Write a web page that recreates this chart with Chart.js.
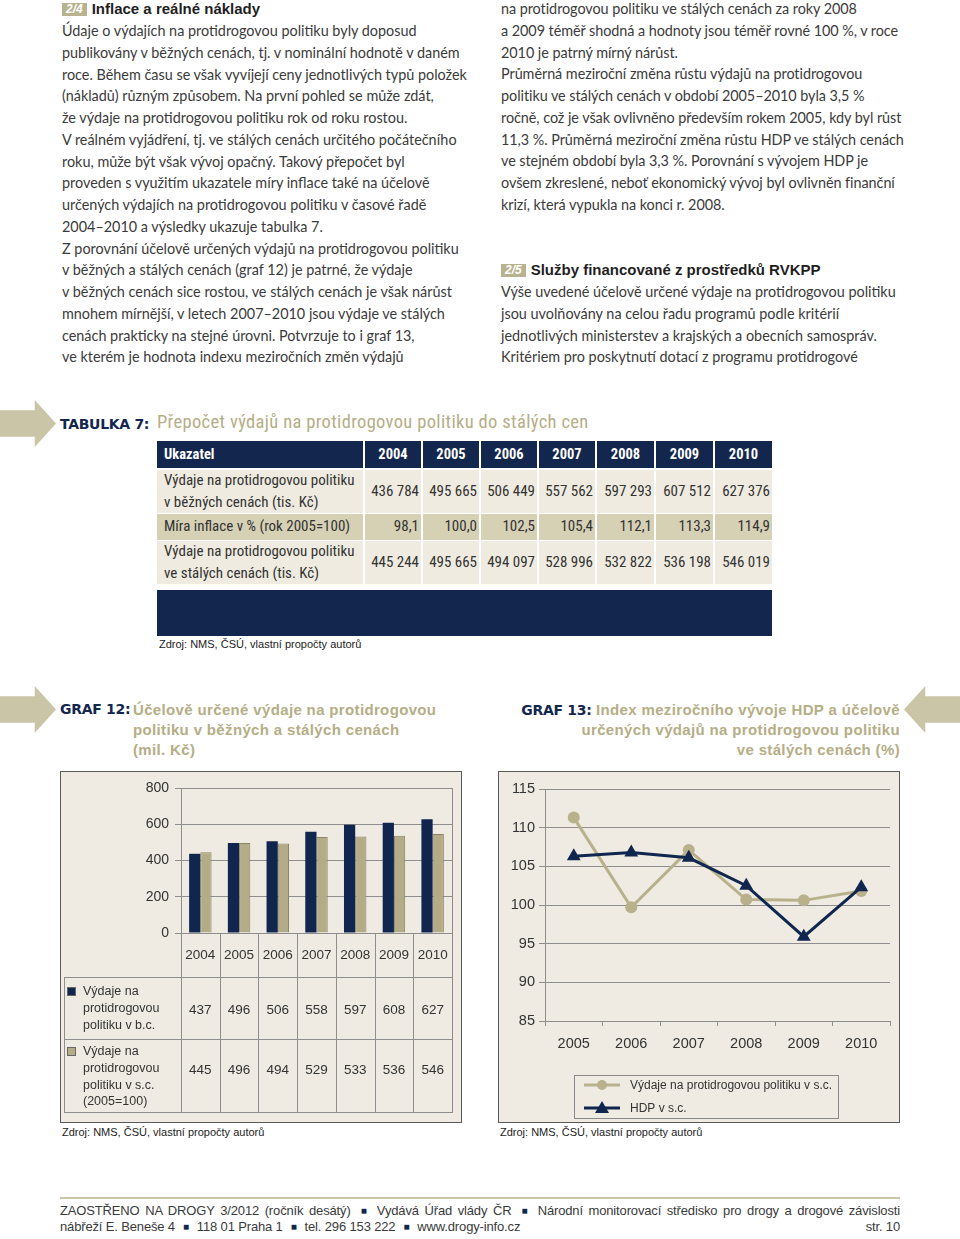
<!DOCTYPE html>
<html><head><meta charset="utf-8">
<script src="https://cdn.jsdelivr.net/npm/chart.js@4.4.1/dist/chart.umd.min.js"></script>
<style>
html,body{margin:0;padding:0;background:#fff}
body{width:960px;height:1239px;position:relative;overflow:hidden;font-family:Lato,"Open Sans",sans-serif;color:#3a3a3a}
.abs{position:absolute}
.txt{font-size:14.4px;line-height:21.75px;white-space:nowrap;color:#3b3b3b}
.hd{font-family:"Liberation Sans",Arial,sans-serif;font-weight:bold;font-size:15px;color:#1f1f1f;white-space:nowrap}
.badge{display:inline-block;background:#b8b28e;color:#fff;font-family:"Liberation Sans",Arial,sans-serif;font-style:italic;font-weight:bold;font-size:12px;line-height:13px;padding:0 4px;margin-right:5px;vertical-align:1px}
.lbl{font-family:"DejaVu Sans",sans-serif;font-weight:bold;font-size:14px;color:#13264d;white-space:nowrap;letter-spacing:-0.3px}
.ttl{font-family:"Liberation Sans",Arial,sans-serif;font-weight:bold;font-size:15px;color:#b5ae86;letter-spacing:0.35px;white-space:nowrap;line-height:20px}
.narrow{font-family:"Liberation Sans Narrow","Roboto Condensed","Liberation Sans",sans-serif}
.box{position:absolute;background:#efebe2;border:1px solid #5a5a5a;width:400px;height:350px}
.src{font-family:"Liberation Sans",Arial,sans-serif;font-size:11px;color:#222;white-space:nowrap}
table.t7{position:absolute;left:157px;top:441px;border-collapse:collapse;table-layout:fixed;width:615px}
table.t7 td{padding:0 3px 0 7px;font-size:15px;color:#333;border-left:2px solid #fff;white-space:nowrap;line-height:21.5px}
table.t7 td.n{text-align:right;padding:0 2px 0 0}
table.t7 tr.h td{background:#13264d;color:#fff;font-weight:bold;height:27px;font-size:14.5px;text-align:center;padding:0}
table.t7 tr.h td:first-child{text-align:left;padding-left:7px}
table.t7 tr.r td{background:#efebe0;border-top:2px solid #fff}
table.t7 tr.m td{background:#d6d0b5;border-top:1px solid #fff;height:26px}
table.t7 td:first-child{border-left:none}
.foot{font-family:"Liberation Sans",Arial,sans-serif;font-size:13px;color:#3a3a3a;white-space:nowrap;letter-spacing:-0.15px}
.sq{color:#13264d;font-size:10px;margin:0 8px;vertical-align:1px}
</style>
</head><body>

<!-- top text columns -->
<div class="abs hd" style="left:62px;top:0px;line-height:18px"><span class="badge">2/4</span>Inflace a reálné náklady</div>
<div class="abs txt" style="left:62px;top:20px">Údaje o výdajích na protidrogovou politiku byly doposud<br>publikovány v běžných cenách, tj. v nominální hodnotě v daném<br>roce. Během času se však vyvíjejí ceny jednotlivých typů položek<br>(nákladů) různým způsobem. Na první pohled se může zdát,<br>že výdaje na protidrogovou politiku rok od roku rostou.<br>V reálném vyjádření, tj. ve stálých cenách určitého počátečního<br>roku, může být však vývoj opačný. Takový přepočet byl<br>proveden s využitím ukazatele míry inflace také na účelově<br>určených výdajích na protidrogovou politiku v časové řadě<br>2004–2010 a výsledky ukazuje tabulka 7.<br>Z porovnání účelově určených výdajů na protidrogovou politiku<br>v běžných a stálých cenách (graf 12) je patrné, že výdaje<br>v běžných cenách sice rostou, ve stálých cenách je však nárůst<br>mnohem mírnější, v letech 2007–2010 jsou výdaje ve stálých<br>cenách prakticky na stejné úrovni. Potvrzuje to i graf 13,<br>ve kterém je hodnota indexu meziročních změn výdajů</div>

<div class="abs txt" style="left:501px;top:-2px;letter-spacing:-0.05px">na protidrogovou politiku ve stálých cenách za roky 2008<br>a 2009 téměř shodná a hodnoty jsou téměř rovné 100 %, v roce<br>2010 je patrný mírný nárůst.<br>Průměrná meziroční změna růstu výdajů na protidrogovou<br>politiku ve stálých cenách v období 2005–2010 byla 3,5 %<br>ročně, což je však ovlivněno především rokem 2005, kdy byl růst<br>11,3 %. Průměrná meziroční změna růstu HDP ve stálých cenách<br>ve stejném období byla 3,3 %. Porovnání s vývojem HDP je<br>ovšem zkreslené, neboť ekonomický vývoj byl ovlivněn finanční<br>krizí, která vypukla na konci r. 2008.</div>
<div class="abs hd" style="left:501px;top:261px;line-height:18px"><span class="badge">2/5</span>Služby financované z prostředků RVKPP</div>
<div class="abs txt" style="left:501px;top:281px">Výše uvedené účelově určené výdaje na protidrogovou politiku<br>jsou uvolňovány na celou řadu programů podle kritérií<br>jednotlivých ministerstev a krajských a obecních samospráv.<br>Kritériem pro poskytnutí dotací z programu protidrogové</div>

<!-- arrows -->
<div class="abs" style="left:0;top:400px;width:56px;height:47px;background:#cbc5a8;clip-path:polygon(0 22%,62% 22%,62% 0,100% 50%,62% 100%,62% 78%,0 78%)"></div>
<div class="abs" style="left:0;top:686px;width:56px;height:47px;background:#cbc5a8;clip-path:polygon(0 22%,62% 22%,62% 0,100% 50%,62% 100%,62% 78%,0 78%)"></div>
<div class="abs" style="left:904px;top:686px;width:56px;height:47px;background:#cbc5a8;clip-path:polygon(100% 22%,38% 22%,38% 0,0 50%,38% 100%,38% 78%,100% 78%)"></div>

<!-- table 7 -->
<div class="abs lbl" style="left:60px;top:416px">TABULKA 7:</div>
<div class="abs ttl narrow" style="left:157px;top:412px;font-size:18.5px;letter-spacing:0.35px;font-weight:normal">Přepočet výdajů na protidrogovou politiku do stálých cen</div>
<table class="t7 narrow" id="t7"></table>
<div class="abs" style="left:157px;top:590px;width:615px;height:46px;background:#13264d"></div>
<div class="abs src narrow" style="left:159px;top:638px">Zdroj: NMS, ČSÚ, vlastní propočty autorů</div>

<!-- graph 12 -->
<div class="abs lbl" style="left:60px;top:701px">GRAF 12:</div>
<div class="abs ttl" style="left:133px;top:700px">Účelově určené výdaje na protidrogovou<br>politiku v běžných a stálých cenách<br>(mil. Kč)</div>
<div class="box" style="left:60px;top:771px"><canvas id="c12" width="400" height="350"></canvas></div>
<div class="abs src" style="left:62px;top:1126px">Zdroj: NMS, ČSÚ, vlastní propočty autorů</div>

<!-- graph 13 -->
<div class="abs ttl" style="right:60px;top:700px;text-align:right"><span class="lbl" style="font-size:14px">GRAF 13:</span> Index meziročního vývoje HDP a účelově<br>určených výdajů na protidrogovou politiku<br>ve stálých cenách (%)</div>
<div class="box" style="left:498px;top:771px"><canvas id="c13" width="400" height="350"></canvas></div>
<div class="abs src" style="left:500px;top:1126px">Zdroj: NMS, ČSÚ, vlastní propočty autorů</div>

<!-- footer -->
<div class="abs" style="left:60px;top:1197px;width:840px;height:2px;background:#cbc5a8"></div>
<div class="abs foot" style="left:60px;top:1203px;width:840px;text-align:justify;text-align-last:justify">ZAOSTŘENO NA DROGY 3/2012 (ročník desátý)<span class="sq">■</span>Vydává Úřad vlády ČR<span class="sq">■</span>Národní monitorovací středisko pro drogy a drogové závislosti</div>
<div class="abs foot" style="left:60px;top:1219px">nábřeží E. Beneše 4<span class="sq">■</span>118 01 Praha 1<span class="sq">■</span>tel. 296 153 222<span class="sq">■</span>www.drogy-info.cz</div>
<div class="abs foot" style="right:60px;top:1219px">str. 10</div>

<script>
// ---------- Table 7 data ----------
const t7Years = ['2004','2005','2006','2007','2008','2009','2010'];
const t7Current = ['436 784','495 665','506 449','557 562','597 293','607 512','627 376'];
const t7Inflation = ['98,1','100,0','102,5','105,4','112,1','113,3','114,9'];
const t7Constant = ['445 244','495 665','494 097','528 996','532 822','536 198','546 019'];

// ---------- Graph 12 data ----------
const g12Years = ['2004','2005','2006','2007','2008','2009','2010'];
const g12Current = [437, 496, 506, 558, 597, 608, 627];
const g12Constant = [445, 496, 494, 529, 533, 536, 546];
const g12LabelCurrent = ['Výdaje na','protidrogovou','politiku v b.c.'];
const g12LabelConstant = ['Výdaje na','protidrogovou','politiku v s.c.','(2005=100)'];

// ---------- Graph 13 data ----------
const g13Years = ['2005','2006','2007','2008','2009','2010'];
const g13Spend = [111.3, 99.7, 107.1, 100.7, 100.6, 101.8];
const g13GDP = [106.3, 106.8, 106.1, 102.5, 95.9, 102.3];
const g13LabelSpend = 'Výdaje na protidrogovou politiku v s.c.';
const g13LabelGDP = 'HDP v s.c.';

const NAVY = '#10264f';
const TAN = '#b3ac87';
const GRID = '#8e8e8e';
const FONT = '"Liberation Sans", Arial, sans-serif';

// build table 7
(function(){
  const t = document.getElementById('t7');
  let cg = '<colgroup><col style="width:207px">' + t7Years.map((y,i)=>'<col style="width:'+(i===4||i===5?59:58)+'px">').join('') + '</colgroup>';
  let h = '<tr class="h"><td>Ukazatel</td>' + t7Years.map(y=>'<td>'+y+'</td>').join('') + '</tr>';
  let r1 = '<tr class="r"><td style="height:42px">Výdaje na protidrogovou politiku<br>v běžných cenách (tis. Kč)</td>' + t7Current.map(v=>'<td class="n">'+v+'</td>').join('') + '</tr>';
  let r2 = '<tr class="m"><td>Míra inflace v % (rok 2005=100)</td>' + t7Inflation.map(v=>'<td class="n">'+v+'</td>').join('') + '</tr>';
  let r3 = '<tr class="r"><td style="height:42px;border-top:1px solid #fff">Výdaje na protidrogovou politiku<br>ve stálých cenách (tis. Kč)</td>' + t7Constant.map(v=>'<td class="n" style="border-top:1px solid #fff">'+v+'</td>').join('') + '</tr>';
  t.innerHTML = cg + h + r1 + r2 + r3;
})();

// ---------- Graph 12 ----------
const dataTablePlugin = {
  id: 'dataTable',
  afterDraw(chart) {
    const {ctx, chartArea: a, scales: {x}} = chart;
    const rows = [a.bottom, a.bottom + 44, a.bottom + 106, a.bottom + 179];
    const left = 3;
    const step = x.getPixelForValue(1) - x.getPixelForValue(0);
    ctx.save();
    ctx.strokeStyle = GRID;
    ctx.lineWidth = 1;
    ctx.beginPath();
    ctx.moveTo(a.right + 0.5, a.top); ctx.lineTo(a.right + 0.5, rows[3]);
    ctx.moveTo(a.left + 0.5, a.bottom); ctx.lineTo(a.left + 0.5, rows[3]);
    for (let i = 1; i < g12Years.length; i++) {
      const bx = Math.round(x.getPixelForValue(i) - step / 2) + 0.5;
      ctx.moveTo(bx, a.bottom); ctx.lineTo(bx, rows[3]);
    }
    for (let r = 1; r < 4; r++) {
      ctx.moveTo(left, rows[r] + 0.5); ctx.lineTo(a.right + 1, rows[r] + 0.5);
    }
    ctx.moveTo(left + 0.5, rows[1]); ctx.lineTo(left + 0.5, rows[3]);
    ctx.stroke();

    ctx.fillStyle = '#333';
    ctx.textAlign = 'center';
    ctx.textBaseline = 'middle';
    ctx.font = '13.5px ' + FONT;
    g12Years.forEach((y, i) => ctx.fillText(y, x.getPixelForValue(i), (rows[0] + rows[1]) / 2));
    chart.data.datasets.forEach((ds, d) => {
      const cy = d === 0 ? rows[1] + 33 : rows[2] + 31;
      ds.data.forEach((v, i) => ctx.fillText(String(v), x.getPixelForValue(i), cy));
    });
    ctx.textAlign = 'left';
    ctx.font = '12.5px ' + FONT;
    const labs = [g12LabelCurrent, g12LabelConstant];
    labs.forEach((lines, d) => {
      const ds = chart.data.datasets[d];
      const top = d === 0 ? rows[1] + 15 : rows[2] + 13;
      ctx.fillStyle = ds.backgroundColor;
      ctx.fillRect(6, top - 5, 9, 9);
      ctx.strokeStyle = '#666';
      ctx.strokeRect(6.5, top - 4.5, 8, 8);
      ctx.fillStyle = '#333';
      lines.forEach((t, k) => ctx.fillText(t, 22, top + k * 16.6));
    });
    ctx.restore();
  }
};

new Chart(document.getElementById('c12'), {
  type: 'bar',
  data: {
    labels: g12Years,
    datasets: [
      { label: g12LabelCurrent.join(' '), data: g12Current, backgroundColor: NAVY, borderWidth: 0 },
      { label: g12LabelConstant.join(' '), data: g12Constant, backgroundColor: TAN, borderColor: '#8b8566', borderWidth: 1 }
    ]
  },
  options: {
    responsive: false,
    animation: false,
    layout: { padding: { left: 60, top: 16, right: 9, bottom: 189 } },
    datasets: { bar: { categoryPercentage: 0.58, barPercentage: 1.0 } },
    plugins: { legend: { display: false }, tooltip: { enabled: false } },
    scales: {
      x: { display: false },
      y: {
        min: 0, max: 800,
        ticks: { stepSize: 200, color: '#333', font: { family: FONT, size: 14 }, padding: 6 },
        grid: { color: GRID, tickLength: 6 },
        border: { color: GRID },
        afterFit(s) { s.width = 60; }
      }
    }
  },
  plugins: [dataTablePlugin]
});

// ---------- Graph 13 ----------
const lineLegendPlugin = {
  id: 'lineLegend',
  afterDraw(chart) {
    const {ctx} = chart;
    const bx = 75, by = 303, bw = 264, bh = 43;
    ctx.save();
    ctx.fillStyle = '#efebe2';
    ctx.fillRect(bx, by, bw, bh);
    ctx.strokeStyle = '#8a8a8a';
    ctx.lineWidth = 1;
    ctx.strokeRect(bx + 0.5, by + 0.5, bw, bh);
    const items = [chart.data.datasets[0], chart.data.datasets[1]];
    items.forEach((ds, i) => {
      const y = by + 10 + i * 23;
      ctx.strokeStyle = ds.borderColor;
      ctx.lineWidth = 3;
      ctx.beginPath(); ctx.moveTo(bx + 10, y); ctx.lineTo(bx + 46, y); ctx.stroke();
      ctx.fillStyle = ds.borderColor;
      const cx = bx + 28;
      if (ds.pointStyle === 'triangle') {
        ctx.beginPath(); ctx.moveTo(cx, y - 7); ctx.lineTo(cx + 7, y + 5); ctx.lineTo(cx - 7, y + 5); ctx.closePath(); ctx.fill();
      } else {
        ctx.beginPath(); ctx.arc(cx, y, 5, 0, Math.PI * 2); ctx.fill();
      }
      ctx.fillStyle = '#333';
      ctx.font = '12px ' + FONT;
      ctx.textBaseline = 'middle';
      ctx.textAlign = 'left';
      ctx.fillText(ds.label, bx + 56, y + 1);
    });
    ctx.restore();
  }
};

new Chart(document.getElementById('c13'), {
  type: 'line',
  data: {
    labels: g13Years,
    datasets: [
      { label: g13LabelSpend, data: g13Spend, borderColor: '#b8b18c', backgroundColor: '#b8b18c', borderWidth: 3,
        pointStyle: 'circle', pointRadius: 6, pointBorderWidth: 0, tension: 0, order: 2 },
      { label: g13LabelGDP, data: g13GDP, borderColor: NAVY, backgroundColor: NAVY, borderWidth: 3,
        pointStyle: 'triangle', pointRadius: 8, pointBorderWidth: 0, tension: 0, order: 1 }
    ]
  },
  options: {
    responsive: false,
    animation: false,
    layout: { padding: { left: 0, top: 17, right: 9, bottom: 61 } },
    plugins: { legend: { display: false }, tooltip: { enabled: false } },
    scales: {
      x: {
        offset: true,
        grid: { offset: true, drawOnChartArea: false, drawTicks: true, tickLength: 5, color: GRID },
        border: { color: GRID },
        ticks: { color: '#333', font: { family: FONT, size: 14.5 }, padding: 9, maxRotation: 0 },
        afterFit(s) { s.height = 40; }
      },
      y: {
        min: 85, max: 115,
        ticks: { stepSize: 5, color: '#333', font: { family: FONT, size: 14.5 }, padding: 4 },
        grid: { color: GRID, tickLength: 6 },
        border: { color: GRID },
        afterFit(s) { s.width = 46; }
      }
    }
  },
  plugins: [lineLegendPlugin]
});
</script>
</body></html>
